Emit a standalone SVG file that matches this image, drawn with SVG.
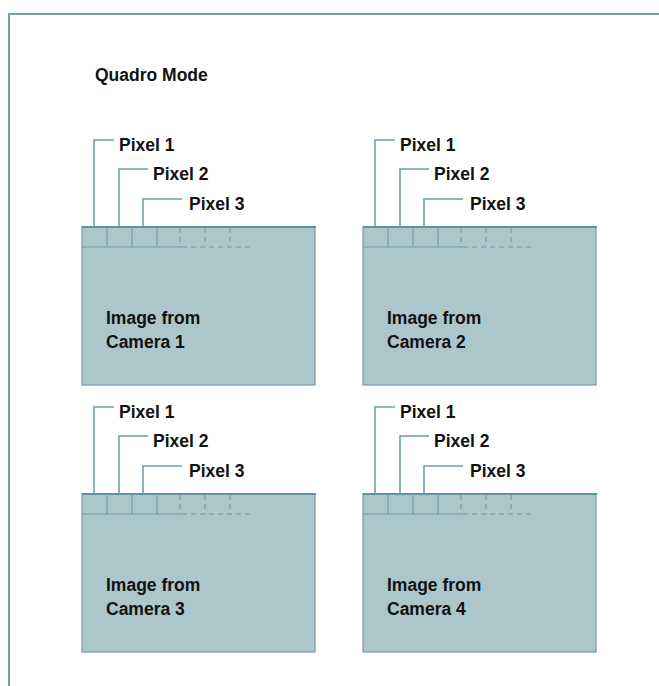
<svg xmlns="http://www.w3.org/2000/svg" width="659" height="686" viewBox="0 0 659 686">
<style>
.frame{fill:none;stroke:#74a1ad;stroke-width:2}
.box{fill:#adc6cc;stroke:#6f9ea9;stroke-width:1.2}
.top{stroke:#5f929f;stroke-width:2}
.cell{stroke:#6f9ea9;stroke-width:1.2;fill:none}
.dash{stroke:#6f9ea9;stroke-width:1.2;fill:none;stroke-dasharray:5 4}
.lead{fill:none;stroke:#6f9ea9;stroke-width:1.6}
text{font-family:"Liberation Sans",Arial,sans-serif;font-weight:bold;font-size:17.5px;fill:#111}
</style>
<g id="frame"><path class="frame" d="M9,686 V14 H659"/></g>
<g id="title"><text x="95" y="81">Quadro Mode</text></g>

<g id="camera1">
<rect class="box" x="82" y="227" width="233" height="158"/>
<line class="top" x1="82" y1="227" x2="316" y2="227"/>
<path class="cell" d="M107,227V247M132,227V247M157,227V247M82,247H182"/>
<path class="dash" d="M180,228V247M205,228V247M230,228V247M182,247H250"/>
<text x="106" y="324">Image from</text>
<text x="106" y="348">Camera 1</text>
</g>
<g id="camera2">
<rect class="box" x="363" y="227" width="233" height="158"/>
<line class="top" x1="363" y1="227" x2="597" y2="227"/>
<path class="cell" d="M388,227V247M413,227V247M438,227V247M363,247H463"/>
<path class="dash" d="M461,228V247M486,228V247M511,228V247M463,247H531"/>
<text x="387" y="324">Image from</text>
<text x="387" y="348">Camera 2</text>
</g>
<g id="camera3">
<rect class="box" x="82" y="494" width="233" height="158"/>
<line class="top" x1="82" y1="494" x2="316" y2="494"/>
<path class="cell" d="M107,494V514M132,494V514M157,494V514M82,514H182"/>
<path class="dash" d="M180,495V514M205,495V514M230,495V514M182,514H250"/>
<text x="106" y="591">Image from</text>
<text x="106" y="615">Camera 3</text>
</g>
<g id="camera4">
<rect class="box" x="363" y="494" width="233" height="158"/>
<line class="top" x1="363" y1="494" x2="597" y2="494"/>
<path class="cell" d="M388,494V514M413,494V514M438,494V514M363,514H463"/>
<path class="dash" d="M461,495V514M486,495V514M511,495V514M463,514H531"/>
<text x="387" y="591">Image from</text>
<text x="387" y="615">Camera 4</text>
</g>

<g id="labels">
<text x="119" y="151">Pixel 1</text><text x="153" y="180">Pixel 2</text><text x="189" y="210">Pixel 3</text>
<text x="400" y="151">Pixel 1</text><text x="434" y="180">Pixel 2</text><text x="470" y="210">Pixel 3</text>
<text x="119" y="418">Pixel 1</text><text x="153" y="447">Pixel 2</text><text x="189" y="477">Pixel 3</text>
<text x="400" y="418">Pixel 1</text><text x="434" y="447">Pixel 2</text><text x="470" y="477">Pixel 3</text>
</g>

<g id="connectors">
<path class="lead" d="M94,227V140H114M119,227V169H148M143,227V199H182"/>
<path class="lead" d="M375,227V140H395M400,227V169H429M424,227V199H463"/>
<path class="lead" d="M94,494V407H114M119,494V436H148M143,494V466H182"/>
<path class="lead" d="M375,494V407H395M400,494V436H429M424,494V466H463"/>
</g>
</svg>
